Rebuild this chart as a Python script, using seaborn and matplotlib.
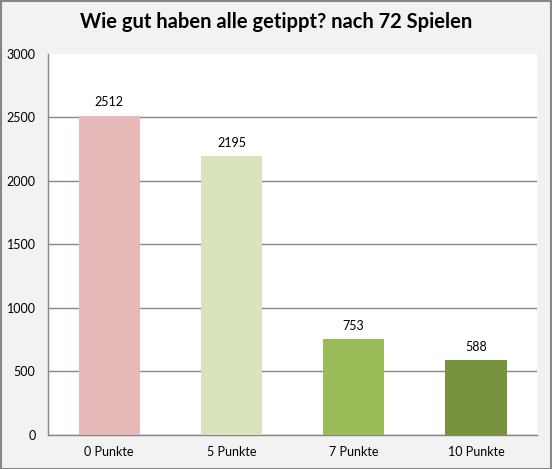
import numpy as np
import pandas as pd
import matplotlib
matplotlib.use('Agg')
import matplotlib.pyplot as plt
import seaborn as sns

# Daten
kategorien = ['0 Punkte', '5 Punkte', '7 Punkte', '10 Punkte']
anzahl = [2512, 2195, 753, 588]
farben = ['#E6B9B8', '#D7E4BD', '#9BBB59', '#77933C']
titel = 'Wie gut haben alle getippt? nach 72 Spielen'

sns.set_style('white')
plt.rcParams['font.family'] = ['Lato', 'DejaVu Sans']
plt.rcParams['text.color'] = 'black'
plt.rcParams['xtick.labelcolor'] = 'black'
plt.rcParams['ytick.labelcolor'] = 'black'

df = pd.DataFrame({'kat': kategorien, 'n': anzahl})

fig = plt.figure(figsize=(5.52, 4.69), dpi=100, facecolor='#F2F2F2')
ax = fig.add_axes([0.087, 0.0725, 0.886, 0.8125])
ax.set_facecolor('white')

sns.barplot(data=df, x='kat', y='n', hue='kat', palette=farben, legend=False,
            width=0.5, saturation=1, ax=ax, zorder=3, linewidth=0)

ax.set_ylim(0, 3000)
ax.set_yticks(range(0, 3001, 500))
ax.set_xlim(-0.5, 3.5)
ax.yaxis.grid(True, color='#868686', linewidth=1, zorder=0)
ax.set_axisbelow(True)
# oberste Gitterlinie gibt es im Original nicht
ax.get_ygridlines()[-1].set_visible(False)

for s in ['top', 'right']:
    ax.spines[s].set_visible(False)
for s in ['left', 'bottom']:
    ax.spines[s].set_color('#868686')
    ax.spines[s].set_linewidth(1)

ax.set_xticks([0, 1, 2, 3])
ax.set_xticklabels(kategorien, fontsize=9)
ax.tick_params(axis='x', length=0, pad=8, labelcolor='black')
ax.set_xticks([-0.5, 0.5, 1.5, 2.5, 3.5], minor=True)
ax.tick_params(axis='x', which='minor', length=5, color='#868686', direction='out')
ax.tick_params(axis='y', length=5, color='#868686', direction='out', labelsize=9, pad=4,
               labelcolor='black')
ax.set_xlabel('')
ax.set_ylabel('')

for i, v in enumerate(anzahl):
    ax.text(i, v + 60, str(v), ha='center', va='bottom', fontsize=9, color='black')

fig.text(0.5, 0.953, titel, ha='center', va='center', fontsize=14.5, fontweight='bold',
         color='black')

# Rahmen
fig.patches.append(plt.Rectangle((0.001, 0.001), 0.997, 0.997, transform=fig.transFigure,
                                 fill=False, edgecolor='#868686', linewidth=1.5))

fig.savefig('out.png', dpi=100, facecolor=fig.get_facecolor())
